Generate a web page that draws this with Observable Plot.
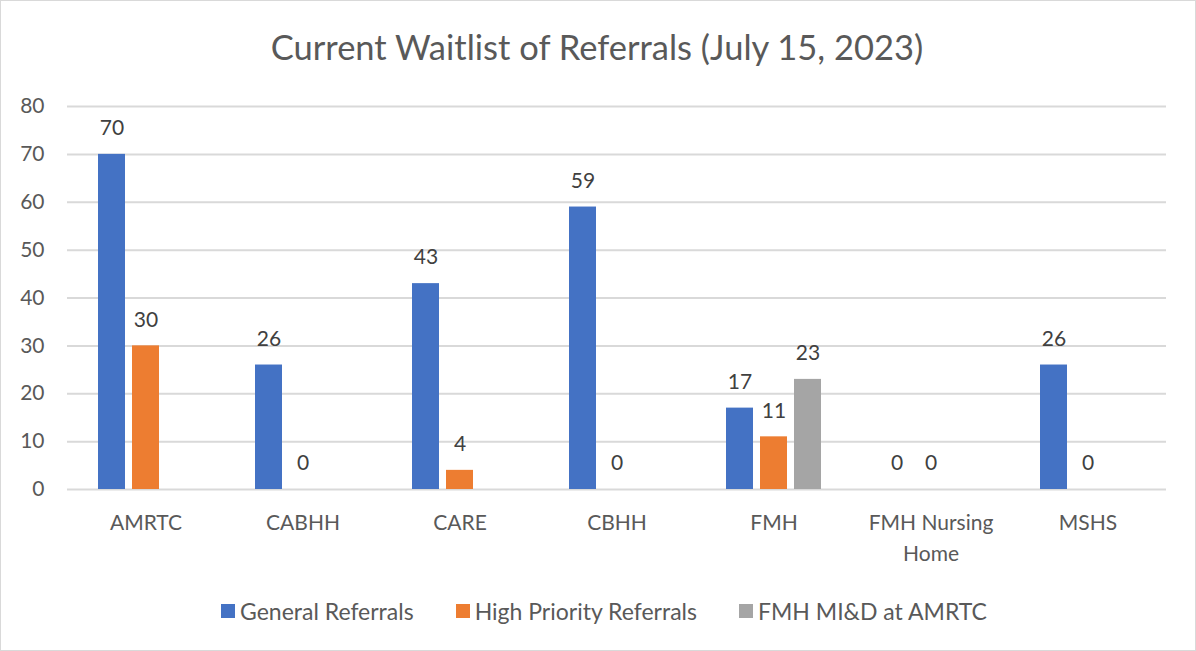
<!DOCTYPE html>
<html>
<head>
<meta charset="utf-8">
<script src="https://cdn.jsdelivr.net/npm/d3@7"></script>
<script src="https://cdn.jsdelivr.net/npm/@observablehq/plot@0.6"></script>
<style>
  html, body { margin: 0; padding: 0; background: #fff; }
  #wrap { position: relative; width: 1196px; height: 651px; overflow: hidden; background: #fff; font-family: Lato, "Open Sans", sans-serif; }
  #border { position: absolute; left: 0; top: 0; width: 1196px; height: 651px; box-sizing: border-box; border: 1px solid #d9d9d9; pointer-events: none; }
  #title { position: absolute; left: -1px; top: 27px; width: 1196px; text-align: center; font-size: 34.5px; line-height: 40px; color: #595959; white-space: nowrap; }
  #chart { position: absolute; left: 0; top: 80px; }
  #legend { position: absolute; left: 6px; top: 599px; width: 1196px; height: 24px; display: flex; justify-content: center; align-items: center; font-size: 23px; color: #595959; white-space: nowrap; }
  .item { display: flex; align-items: center; margin: 0 21px; }
  .sw { width: 14px; height: 14px; margin-right: 5px; }
</style>
</head>
<body>
<div id="wrap">
  <div id="title">Current Waitlist of Referrals (July 15, 2023)</div>
  <div id="chart"></div>
  <div id="legend"></div>
  <div id="border"></div>
</div>
<script>
const categories = ["AMRTC", "CABHH", "CARE", "CBHH", "FMH", "FMH Nursing Home", "MSHS"];
const series = ["General Referrals", "High Priority Referrals", "FMH MI&D at AMRTC"];
const generalReferrals = [70, 26, 43, 59, 17, 0, 26];
const highPriorityReferrals = [30, 0, 4, 0, 11, 0, 0];
const fmhMIDatAMRTC = [null, null, null, null, 23, null, null];
const seriesColors = ["#4472C4", "#ED7D31", "#A5A5A5"];
const yTicks = [0, 10, 20, 30, 40, 50, 60, 70, 80];

const valuesBySeries = [generalReferrals, highPriorityReferrals, fmhMIDatAMRTC];
const rows = [];
categories.forEach((c, i) => {
  series.forEach((s, j) => {
    const v = valuesBySeries[j][i];
    if (v !== null && v !== undefined) rows.push({category: c, series: s, value: v});
  });
});

const chart = Plot.plot({
  width: 1196,
  height: 490,
  marginLeft: 66,
  marginRight: 29,
  marginTop: 26,
  marginBottom: 81,
  style: {fontFamily: 'Lato, "Open Sans", sans-serif', background: "transparent"},
  fx: {domain: categories, padding: 0, label: null, axis: null},
  x: {domain: series, paddingInner: 0.219, paddingOuter: 0.857, axis: null},
  y: {domain: [0, 80], axis: null},
  color: {domain: series, range: seriesColors},
  marks: [
    Plot.gridY(yTicks, {stroke: "#d9d9d9", strokeWidth: 2, strokeOpacity: 1}),
    Plot.barY(rows, {fx: "category", x: "series", y: "value", fill: "series"}),
    Plot.text(rows, {fx: "category", x: "series", y: "value", text: d => String(d.value),
      dy: -26, lineAnchor: "middle", fill: "#404040", fontSize: 21}),
    Plot.axisY(yTicks, {tickSize: 0, tickPadding: 23, fontSize: 21, fill: "#595959", label: null}),
    Plot.axisFx({anchor: "bottom", tickSize: 0, tickPadding: 18, fontSize: 21, fill: "#595959",
      lineWidth: 7.5, lineHeight: 1.48, label: null})
  ]
});
document.getElementById("chart").appendChild(chart);

const legend = document.getElementById("legend");
series.forEach((s, j) => {
  const item = document.createElement("div");
  item.className = "item";
  const sw = document.createElement("div");
  sw.className = "sw";
  sw.style.background = seriesColors[j];
  const t = document.createElement("span");
  t.textContent = s;
  item.appendChild(sw);
  item.appendChild(t);
  legend.appendChild(item);
});
</script>
</body>
</html>
